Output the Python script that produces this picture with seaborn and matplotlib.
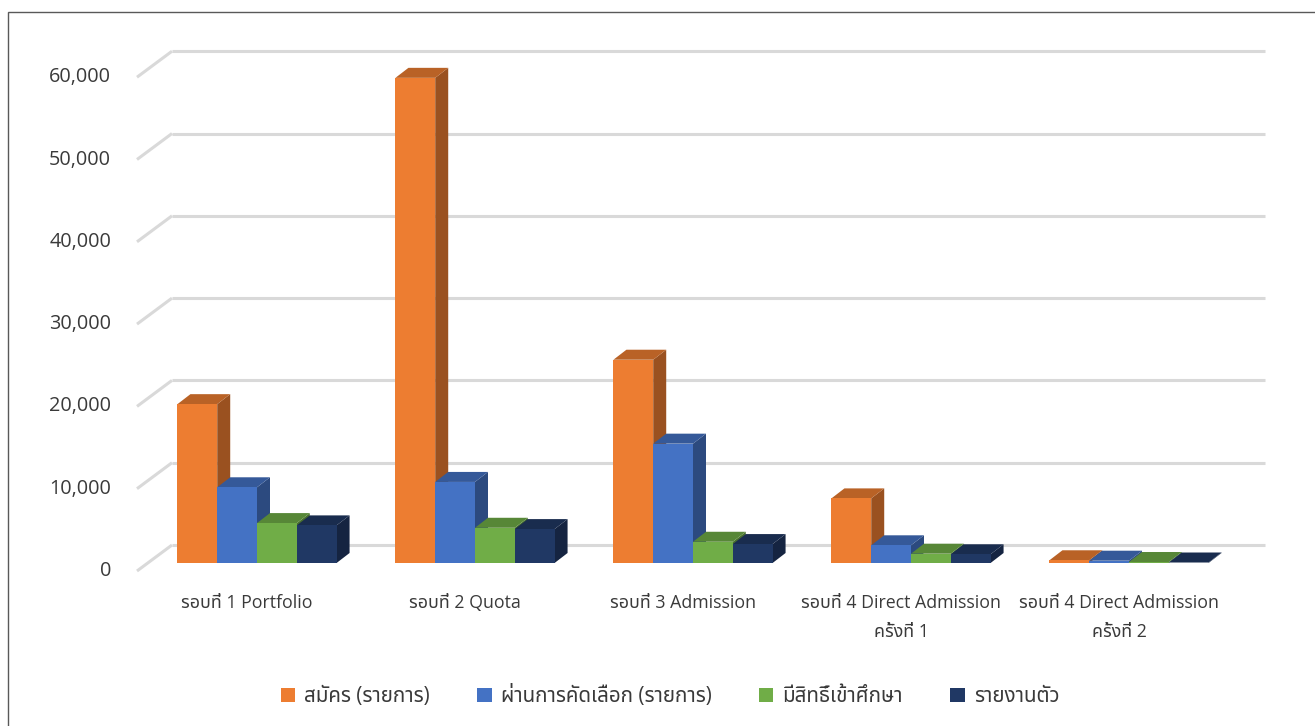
import numpy as np
import pandas as pd
import matplotlib
matplotlib.use("Agg")
import matplotlib.pyplot as plt
import seaborn as sns
from matplotlib import font_manager
from matplotlib.patches import Polygon, Rectangle, Patch
from matplotlib.ft2font import FT2Font

# ---------------- data ----------------
categories = ["รอบที่ 1 Portfolio", "รอบที่ 2 Quota", "รอบที่ 3 Admission",
              "รอบที่ 4 Direct Admission\nครั้งที่ 1", "รอบที่ 4 Direct Admission\nครั้งที่ 2"]
series = ["สมัคร (รายการ)", "ผ่านการคัดเลือก (รายการ)", "มีสิทธิ์เข้าศึกษา", "รายงานตัว"]
applied = [19300, 58950, 24700, 7850, 330]
passed = [9200, 9850, 14500, 2150, 280]
eligible = [4850, 4280, 2580, 1130, 120]
reported = [4570, 4120, 2300, 1060, 60]
yticks = [0, 10000, 20000, 30000, 40000, 50000, 60000]
ytick_labels = ["0", "10,000", "20,000", "30,000", "40,000", "50,000", "60,000"]
colors = ["#ED7D31", "#4472C4", "#70AD47", "#203864"]

# ---------------- fonts ----------------
def find_thai_font():
    found = []
    for f in font_manager.fontManager.ttflist:
        try:
            cm = FT2Font(f.fname).get_charmap()
            if 0x0E23 in cm and 0x0E2D in cm and 0x0E35 in cm:
                found.append(f.name)
        except Exception:
            pass
    for pref in ["Noto Sans Thai", "Noto Sans Thai UI", "Loma", "Garuda", "Tlwg Typo"]:
        if pref in found:
            return pref
    return found[0] if found else None

sns.set_theme(style="white")
thai = find_thai_font()
fam = ["Open Sans"]
if thai:
    fam.append(thai)
fam.append("DejaVu Sans")
plt.rcParams["font.family"] = fam

# ---------------- figure ----------------
W, H = 1315, 726
fig = plt.figure(figsize=(W / 100, H / 100), dpi=100)
fig.patch.set_facecolor("white")

px_per_cat = 218.0
px_per_10k = 82.3
left_px, zero_px = 148.0, 563.0
ax = fig.add_axes([left_px / W, (H - zero_px) / H, 5 * px_per_cat / W, 6 * px_per_10k / H])

pxx = 1.0 / px_per_cat          # data units per pixel, x
pxy = 10000.0 / px_per_10k      # data units per pixel, y

# ---------------- bars ----------------
df = pd.DataFrame({
    "category": np.repeat(categories, 4),
    "series": series * len(categories),
    "value": np.ravel(np.column_stack([applied, passed, eligible, reported])),
})
sns.barplot(data=df, x="category", y="value", hue="series", order=categories, hue_order=series,
            palette=colors, width=0.73, gap=0, saturation=1, linewidth=0, legend=False, ax=ax,
            errorbar=None)
ax.set_xlim(-0.5, 4.5)
ax.set_ylim(0, 60000)
ax.axis("off")

# ---------------- back wall + side wall lines ----------------
grid_c = "#D9D9D9"
x_grid_end = (1265 - left_px) / px_per_cat - 0.5
for v in yticks:
    xf, yf = -0.5 - 11 * pxx, v - 8 * pxy
    xb, yb = -0.5 + 24 * pxx, v + 18 * pxy
    ax.plot([xf, xb], [yf, yb], color=grid_c, lw=2.2, solid_capstyle="butt", clip_on=False, zorder=0.5)
    ax.plot([xb, x_grid_end], [yb, yb], color=grid_c, lw=2.2, solid_capstyle="butt", clip_on=False, zorder=0.5)

def shade(c, f):
    r, g, b = matplotlib.colors.to_rgb(c)
    return (r * f, g * f, b * f)

ddx, ddy = 13 * pxx, 10 * pxy
bars = [p for p in ax.patches if isinstance(p, matplotlib.patches.Rectangle)]
for p in bars:
    x0, w, h = p.get_x(), p.get_width(), p.get_height()
    c = p.get_facecolor()
    z = 2 + x0 * 0.1
    p.set_zorder(z + 0.01)
    p.set_clip_on(False)
    top = Polygon([(x0, h), (x0 + w, h), (x0 + w + ddx, h + ddy), (x0 + ddx, h + ddy)],
                  closed=True, fc=shade(c, 0.78), ec="none", zorder=z, clip_on=False)
    side = Polygon([(x0 + w, 0), (x0 + w + ddx, ddy), (x0 + w + ddx, h + ddy), (x0 + w, h)],
                   closed=True, fc=shade(c, 0.65), ec="none", zorder=z, clip_on=False)
    ax.add_patch(side)
    ax.add_patch(top)

# ---------------- labels ----------------
txt_c = "#3A3A3A"
for v, lab in zip(yticks, ytick_labels):
    ax.text(-0.5 + (111 - left_px) * pxx, v - 8 * pxy, lab, ha="right", va="center",
            fontsize=14.3, color=txt_c, clip_on=False)
for i, lab in enumerate(categories):
    ax.text(i - 10 * pxx, -31 * pxy, lab, ha="center", va="top", fontsize=12.8,
            color=txt_c, linespacing=1.8, clip_on=False)

handles = [Patch(facecolor=c, edgecolor="none") for c in colors]
fig.legend(handles, series, loc="center", bbox_to_anchor=(670 / W, 1 - 696 / H), ncol=4,
           frameon=False, fontsize=14.8, handlelength=0.7, handleheight=0.7,
           handletextpad=0.45, columnspacing=2.3, labelcolor=txt_c)

# chart border
fig.add_artist(Rectangle((8 / W, -0.1), 1.2, (H - 12) / H + 0.1, transform=fig.transFigure,
                         fill=False, ec="#595959", lw=1.0))

fig.savefig("out.png", dpi=100)
